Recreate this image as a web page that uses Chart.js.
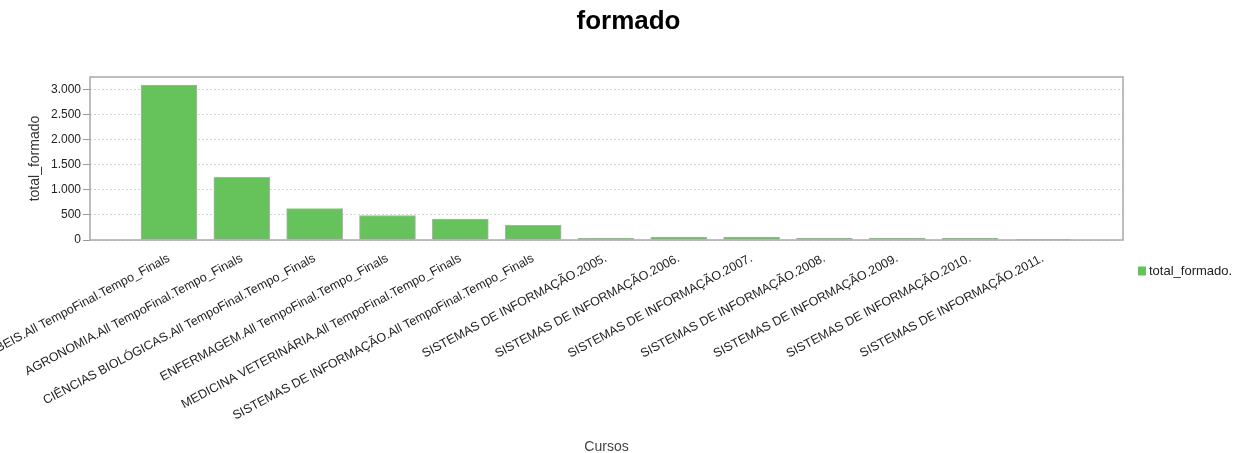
<!DOCTYPE html>
<html>
<head>
<meta charset="utf-8">
<script src="https://cdn.jsdelivr.net/npm/chart.js@4.4.1/dist/chart.umd.min.js"></script>
<style>
  html, body { margin: 0; padding: 0; background: #fff; }
  #wrap { width: 1245px; height: 453px; }
</style>
</head>
<body>
<div id="wrap"><canvas id="chart" width="1245" height="453"></canvas></div>
<script>
const cursos = [
  "CIÊNCIAS CONTÁBEIS.All TempoFinal.Tempo_Finals",
  "AGRONOMIA.All TempoFinal.Tempo_Finals",
  "CIÊNCIAS BIOLÓGICAS.All TempoFinal.Tempo_Finals",
  "ENFERMAGEM.All TempoFinal.Tempo_Finals",
  "MEDICINA VETERINÁRIA.All TempoFinal.Tempo_Finals",
  "SISTEMAS DE INFORMAÇÃO.All TempoFinal.Tempo_Finals",
  "SISTEMAS DE INFORMAÇÃO.2005.",
  "SISTEMAS DE INFORMAÇÃO.2006.",
  "SISTEMAS DE INFORMAÇÃO.2007.",
  "SISTEMAS DE INFORMAÇÃO.2008.",
  "SISTEMAS DE INFORMAÇÃO.2009.",
  "SISTEMAS DE INFORMAÇÃO.2010.",
  "SISTEMAS DE INFORMAÇÃO.2011.",
];
const totalFormado = [3090, 1250, 625, 488, 415, 292, 32, 60, 60, 32, 40, 40, 15];
const yTicks = [0, 500, 1000, 1500, 2000, 2500, 3000];
const titulo = "formado";

const verde = "#66c35c";
const fonte = "Arial, 'Liberation Sans', sans-serif";

function milhar(v) {
  return String(v).replace(/\B(?=(\d{3})+(?!\d))/g, ".");
}

// título centrado na página, moldura do gráfico e legenda
const moldura = {
  id: "moldura",
  afterDraw(chart) {
    const { ctx, chartArea: a } = chart;
    ctx.save();
    ctx.fillStyle = "#000";
    ctx.font = "bold 26px " + fonte;
    ctx.textAlign = "center";
    ctx.textBaseline = "middle";
    ctx.fillText(titulo, chart.width / 2 + 6, 22);

    ctx.strokeStyle = "#a8a8a8";
    ctx.lineWidth = 1.5;
    ctx.strokeRect(a.left, a.top, a.right - a.left, a.bottom - a.top);

    const ds = chart.data.datasets[0];
    const lx = a.right + 15;
    const ly = (a.top + chart.height) / 2 + 6;
    ctx.fillStyle = ds.backgroundColor;
    ctx.fillRect(lx, ly - 4.5, 8, 9);
    ctx.fillStyle = "#222";
    ctx.font = "13px " + fonte;
    ctx.textAlign = "left";
    ctx.fillText(ds.label, lx + 11, ly);
    ctx.restore();
  },
};

const ctx = document.getElementById("chart").getContext("2d");
const chart = new Chart(ctx, {
  type: "bar",
  data: {
    datasets: [
      {
        label: "total_formado.",
        data: totalFormado.map((v, i) => ({ x: i, y: v })),
        backgroundColor: verde,
        borderColor: "#b0b0b0",
        borderWidth: 1,
        barThickness: 56,
      },
    ],
  },
  options: {
    responsive: false,
    animation: false,
    layout: { padding: { left: 27, right: 122, top: 77, bottom: 0 } },
    plugins: {
      legend: { display: false },
      tooltip: { enabled: false },
      title: { display: false },
    },
    scales: {
      x: {
        type: "linear",
        offset: false,
        min: -1.085,
        max: 13.1,
        afterFit(scale) { scale.height = 213; },
        grid: { display: false },
        border: { display: false },
        ticks: {
          stepSize: 1,
          maxTicksLimit: 30,
          autoSkip: false,
          minRotation: 28,
          maxRotation: 28,
          padding: 3,
          color: "#222",
          font: { family: fonte, size: 12.5 },
          callback: (v) => (Number.isInteger(v) && cursos[v] !== undefined ? cursos[v] : ""),
        },
        title: {
          display: true,
          text: "Cursos",
          color: "#444",
          font: { family: fonte, size: 14, lineHeight: 0.9 },
          padding: 0,
        },
      },
      y: {
        min: 0,
        max: 3250,
        afterFit(scale) { scale.width = 63; },
        afterBuildTicks(scale) { scale.ticks = yTicks.map((v) => ({ value: v })); },
        border: { display: false, dash: [2, 2] },
        grid: {
          color: "#d4d4d4",
          tickColor: "#999",
          tickLength: 7,
          tickBorderDash: [],
        },
        ticks: {
          padding: 2,
          color: "#222",
          font: { family: fonte, size: 12 },
          callback: (v) => milhar(v),
        },
        title: {
          display: true,
          text: "total_formado",
          color: "#333",
          font: { family: fonte, size: 14 },
          padding: 0,
        },
      },
    },
  },
  plugins: [moldura],
});
</script>
</body>
</html>
